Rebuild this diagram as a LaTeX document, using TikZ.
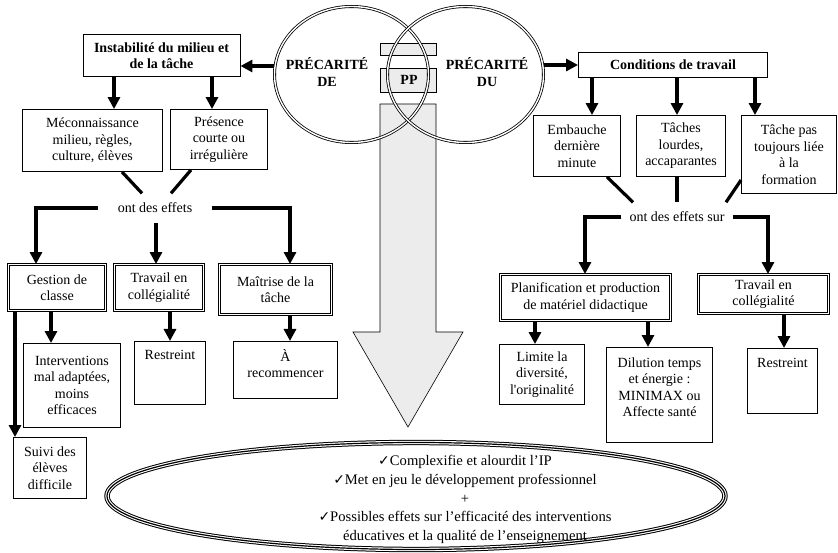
\documentclass[tikz,border=0pt]{standalone}
\usepackage{fontspec}
\setmainfont{Liberation Serif}
\newfontfamily\symfont{DejaVu Sans}
\usetikzlibrary{arrows.meta, shapes.geometric, calc}
\newcommand\chk{{\symfont\fontsize{14}{14}\selectfont ✓}}
\newcommand\toptxt[3]{\parbox[c][#1][t]{#2}{\centering #3}}

\begin{document}
\begin{tikzpicture}[
  x=1pt,y=-1pt,
  line join=miter,
  >={Triangle[length=12pt,width=12pt]},
  box/.style={draw=black,line width=0.9pt,align=center,inner sep=2pt,
    font=\fontsize{14}{16.5}\selectfont},
  dbox/.style={box,double,double distance=1.5pt},
  headbox/.style={box,font=\bfseries\fontsize{14}{16.5}\selectfont},
  word/.style={align=center,font=\fontsize{14}{16.5}\selectfont},
  bigword/.style={align=center,font=\bfseries\fontsize{14}{16.5}\selectfont},
  circ/.style={draw=black,ellipse,double,double distance=1.4pt,line width=0.8pt},
  arr/.style={->,line width=3.2pt},
  thk/.style={line width=3.2pt},
  grayfill/.style={fill=gray!15,draw=black,line width=0.6pt}
]
\useasboundingbox (0,0) rectangle (838,553);

% gray arrow through the intersection
\draw[grayfill] (380,43) rectangle (436,55);
\draw[grayfill] (380,68) rectangle (436,92);
\draw[grayfill] (380,104) -- (436,104) -- (436,332) -- (463,332) -- (408,427)
  -- (353,332) -- (380,332) -- cycle;

% the two precarity circles
\node[circ,minimum width=154pt,minimum height=136pt] (lcirc) at (351.5,74.5) {};
\node[circ,minimum width=156pt,minimum height=136pt] (rcirc) at (465.5,74.5) {};
\node[bigword] (lde) at (327,72) {PRÉCARITÉ\\DE};
\node[bigword] (pp) at (409,80) {PP};
\node[bigword] (ldu) at (487,72) {PRÉCARITÉ\\DU};

% left branch
\node[headbox,minimum width=157pt,minimum height=42pt] (inst) at (161.5,55.5)
  {Instabilité du milieu et\\de la tâche};
\node[box,minimum width=140pt,minimum height=62pt] (meco) at (92.5,140.5)
  {Méconnaissance\\milieu, règles,\\culture, élèves};
\node[box,minimum width=97pt,minimum height=60pt] (pres) at (219,139.5)
  {Présence\\courte ou\\irrégulière};
\node[word,inner xsep=20pt,inner ysep=9.5pt] (eff1) at (155,208) {ont des effets};
\node[dbox,minimum width=97pt,minimum height=46pt] (gest) at (57,287.5) {Gestion de\\classe};
\node[dbox,minimum width=89pt,minimum height=46pt] (trav1) at (159,287.5) {Travail en\\collégialité};
\node[dbox,minimum width=112pt,minimum height=50pt] (mait) at (275.5,289.5) {Maîtrise de la\\tâche};
\node[box,minimum width=97pt,minimum height=84pt] (inter) at (72,385.5)
  {Interventions\\mal adaptées,\\moins\\efficaces};
\node[box,minimum width=73pt,minimum height=61pt] (suivi) at (50,468)
  {Suivi des\\élèves\\difficile};
\node[box,anchor=north,inner ysep=9pt,minimum width=71pt] (restr1) at (170,341)
  {\toptxt{45pt}{66pt}{Restreint}};
\node[box,anchor=north,inner ysep=8pt,minimum width=104pt] (recom) at (285.5,341)
  {\toptxt{41pt}{100pt}{À\\recommencer}};

\draw[arr] (lcirc.west |- 0,66) -- (inst.east |- 0,66);
\draw[arr] (inst.south -| 114,0) -- (meco.north -| 114,0);
\draw[arr] (inst.south -| 212,0) -- (pres.north -| 212,0);
\draw[thk] (meco.south -| 122,0) -- (eff1.north -| 142,0);
\draw[thk] (pres.south -| 191,0) -- (eff1.north -| 171,0);
\draw[arr] (eff1.west) -| (gest.north -| 36,0);
\draw[arr] (eff1.south -| 156,0) -- (trav1.north -| 156,0);
\draw[arr] (eff1.east) -| (mait.north -| 290,0);
\draw[arr] (gest.south -| 51,0) -- (inter.north -| 51,0);
\draw[arr] (gest.south -| 15,0) -- (suivi.north -| 15,0);
\draw[arr] (trav1.south -| 170,0) -- (restr1.north -| 170,0);
\draw[arr] (mait.south -| 290,0) -- (recom.north -| 290,0);

% right branch
\node[headbox,minimum width=189pt,minimum height=25pt] (cond) at (673,65) {Conditions de travail};
\node[box,minimum width=87pt,minimum height=61pt] (emb) at (577,146)
  {Embauche\\dernière\\minute};
\node[box,minimum width=89pt,minimum height=61pt] (tach) at (681,146)
  {Tâches\\lourdes,\\accaparantes};
\node[box,minimum width=95pt,minimum height=78pt] (pas) at (789,154.5)
  {Tâche pas\\toujours liée\\à la\\formation};
\node[word,inner xsep=8pt,inner ysep=9.5pt] (eff2) at (677,217) {ont des effets sur};
\node[dbox,minimum width=170pt,minimum height=46pt] (plan) at (585.5,297.5)
  {Planification et production\\de matériel didactique};
\node[dbox,minimum width=130pt,minimum height=39pt] (trav2) at (763.5,294) {Travail en\\collégialité};
\node[box,minimum width=85pt,minimum height=60pt] (limite) at (542,374.5)
  {Limite la\\diversité,\\l\textquotesingle originalité};
\node[box,anchor=north,inner ysep=10pt,minimum width=106pt] (dilu) at (659.5,347)
  {\toptxt{75pt}{100pt}{Dilution temps\\et énergie :\\MINIMAX ou\\Affecte santé}};
\node[box,anchor=north,inner ysep=10pt,minimum width=70pt] (restr2) at (782.5,348)
  {\toptxt{45pt}{64pt}{Restreint}};

\draw[arr] (rcirc.east |- cond.west) -- (cond.west);
\draw[arr] (cond.south -| 592,0) -- (emb.north -| 592,0);
\draw[arr] (cond.south -| 677,0) -- (tach.north -| 677,0);
\draw[arr] (cond.south -| 755,0) -- (pas.north -| 755,0);
\draw[thk] (emb.south -| 607,0) -- (eff2.north -| 633,0);
\draw[thk] (tach.south -| 677,0) -- (eff2.north -| 677,0);
\draw[thk] (pas.west |- 0,180) -- (eff2.north -| 726,0);
\draw[arr] (eff2.west) -| (plan.north -| 585,0);
\draw[arr] (eff2.east) -| (trav2.north -| 768,0);
\draw[arr] (plan.south -| 535,0) -- (limite.north -| 535,0);
\draw[arr] (plan.south -| 648,0) -- (dilu.north -| 648,0);
\draw[arr] (trav2.south -| 784,0) -- (restr2.north -| 784,0);

% resulting effects
\node[draw=black,ellipse,line width=1pt,double,double distance=3.4pt,
  postaction={draw=black,line width=1.2pt},
  minimum width=618pt,minimum height=107pt] (res) at (416,496) {};
\node[align=center,font=\fontsize{14.6}{18.75}\selectfont] (restxt) at (465,499.5)
  {\chk Complexifie et alourdit l’IP\\
   \chk Met en jeu le développement professionnel\\
   +\\
   \chk Possibles effets sur l’efficacité des interventions\\
   éducatives et la qualité de l’enseignement};

\end{tikzpicture}
\end{document}
